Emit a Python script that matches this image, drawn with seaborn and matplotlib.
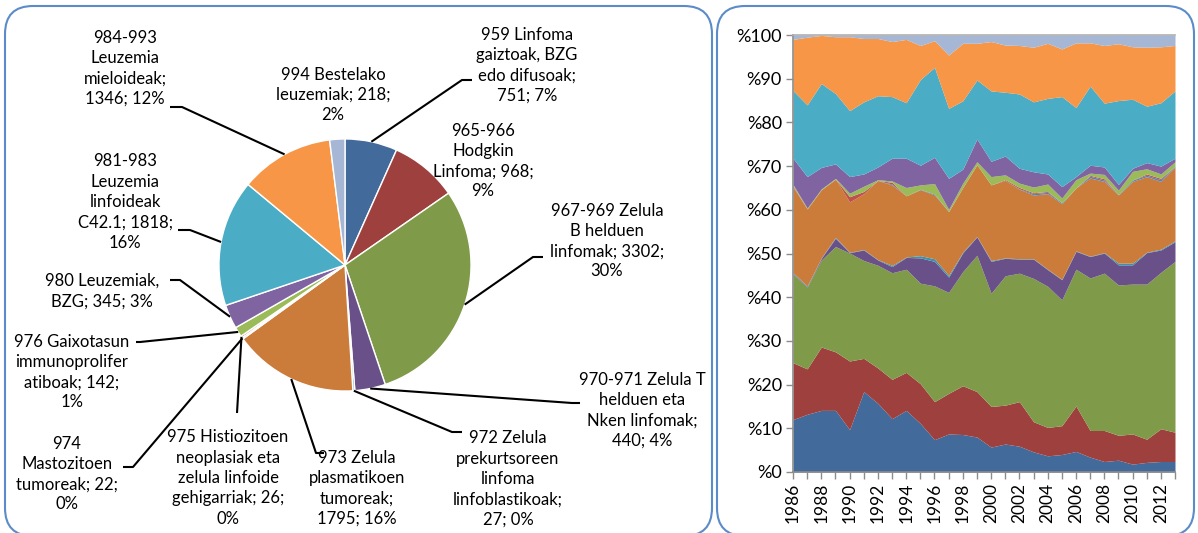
import numpy as np
import pandas as pd
import matplotlib
matplotlib.use("Agg")
import matplotlib.pyplot as plt
from matplotlib.patches import FancyBboxPatch
import seaborn as sns

# === 1. Datuak: tarta (kasu kopurua taldeka) ===
pie_values = [751, 968, 3302, 440, 27, 1795, 22, 26, 142, 345, 1818, 1346, 218]
pie_pcts = [7, 9, 30, 4, 0, 16, 0, 0, 1, 3, 16, 12, 2]
pie_labels = [
    "959 Linfoma\ngaiztoak, BZG\nedo difusoak;\n{v}; {p}%",
    "965-966\nHodgkin\nLinfoma; {v};\n{p}%",
    "967-969 Zelula\nB helduen\nlinfomak; {v};\n{p}%",
    "970-971 Zelula T\nhelduen eta\nNken linfomak;\n{v}; {p}%",
    "972 Zelula\nprekurtsoreen\nlinfoma\nlinfoblastikoak;\n{v}; {p}%",
    "973 Zelula\nplasmatikoen\ntumoreak;\n{v}; {p}%",
    "974\nMastozitoen\ntumoreak; {v};\n{p}%",
    "975 Histiozitoen\nneoplasiak eta\nzelula linfoide\ngehigarriak; {v};\n{p}%",
    "976 Gaixotasun\nimmunoprolifer\natiboak; {v};\n{p}%",
    "980 Leuzemiak,\nBZG; {v}; {p}%",
    "981-983\nLeuzemia\nlinfoideak\nC42.1; {v};\n{p}%",
    "984-993\nLeuzemia\nmieloideak;\n{v}; {p}%",
    "994 Bestelako\nleuzemiak; {v};\n{p}%",
]

# === 2. Datuak: urteko ehunekoak (%), talde bakoitzeko ===
years = list(range(1986, 2014))
s959 = [12.0, 13.2, 14.1, 14.1, 9.7, 18.4, 15.7, 12.2, 14.1, 11.1, 7.4, 8.7, 8.6, 8.0,
        5.7, 6.4, 5.9, 4.6, 3.7, 4.0, 4.7, 3.4, 2.4, 2.7, 1.8, 2.2, 2.4, 2.4]
s965 = [13.0, 10.4, 14.5, 13.4, 15.7, 7.6, 8.1, 9.0, 8.7, 9.1, 8.7, 9.3, 11.2, 10.4,
        9.3, 8.9, 10.2, 6.9, 6.5, 6.6, 10.4, 6.1, 7.1, 5.7, 6.9, 5.3, 7.5, 6.7]
s967 = [20.3, 18.7, 19.9, 24.1, 24.7, 22.4, 23.5, 24.4, 23.6, 23.0, 26.5, 23.1, 26.2, 31.2,
        25.9, 29.6, 29.4, 32.8, 32.3, 28.8, 31.3, 34.9, 36.0, 34.4, 34.3, 35.5, 35.8, 39.1]
s970 = [0.2, 0.1, 0.4, 1.9, 0.1, 2.4, 1.2, 1.4, 2.7, 5.8, 5.6, 3.5, 4.3, 4.2,
        7.3, 4.0, 3.2, 4.4, 3.8, 4.6, 4.1, 4.9, 4.6, 4.6, 4.4, 7.2, 5.1, 4.5]
s972 = [0.1, 0.2, 0.1, 0.2, 0.1, 0.1, 0.1, 0.3, 0.1, 0.5, 0.6, 0.4, 0.2, 0.1,
        0.2, 0.1, 0.1, 0.1, 0.1, 0.1, 0.1, 0.1, 0.1, 0.4, 0.4, 0.1, 0.2, 0.2]
s973 = [19.6, 17.6, 15.6, 13.3, 11.5, 12.8, 18.1, 18.4, 14.0, 15.1, 14.6, 14.6, 14.8, 16.4,
        17.3, 17.7, 15.9, 14.6, 17.3, 17.3, 14.4, 17.9, 16.3, 15.6, 18.7, 17.3, 15.5, 16.9]
s974 = [0.1, 0.0, 0.0, 0.0, 0.0, 0.0, 0.0, 0.2, 0.0, 0.1, 0.2, 0.0, 0.0, 0.0,
        0.0, 0.0, 0.1, 0.3, 0.3, 0.2, 0.0, 0.4, 0.3, 0.1, 0.3, 0.3, 0.4, 0.2]
s975 = [0.2, 0.0, 0.0, 0.0, 1.2, 0.5, 0.0, 0.4, 0.0, 0.0, 0.0, 0.0, 0.0, 0.0,
        0.0, 0.2, 0.3, 0.2, 0.2, 0.0, 0.0, 0.2, 0.3, 0.0, 0.0, 0.3, 0.3, 0.0]
s976 = [0.3, 0.2, 0.2, 0.2, 0.8, 1.2, 0.2, 0.3, 1.9, 1.0, 2.4, 0.5, 1.0, 0.7,
        1.9, 1.1, 1.0, 1.3, 1.7, 1.1, 1.9, 0.5, 1.0, 1.0, 2.0, 1.2, 1.0, 1.0]
s980 = [6.0, 7.2, 4.9, 3.3, 3.8, 2.8, 2.9, 5.2, 6.7, 4.5, 6.0, 7.1, 3.2, 5.2,
        3.5, 4.3, 3.4, 3.5, 2.3, 2.6, 0.7, 1.8, 1.7, 1.3, 0.7, 1.4, 1.8, 0.8]
s981 = [15.5, 16.4, 19.2, 16.1, 15.1, 16.5, 16.3, 14.1, 12.7, 19.6, 20.6, 16.0, 15.7, 13.5,
        16.1, 14.6, 17.0, 16.0, 17.3, 20.6, 15.8, 18.1, 14.6, 19.2, 15.8, 12.9, 14.5, 15.4]
s984 = [11.7, 15.5, 11.0, 13.0, 16.9, 14.5, 13.1, 12.6, 14.5, 7.8, 6.1, 12.2, 13.2, 8.4,
        11.3, 10.8, 11.1, 12.5, 12.6, 10.9, 14.8, 9.9, 13.2, 13.0, 12.0, 13.5, 12.8, 10.4]
s994 = [1.0, 0.5, 0.1, 0.4, 0.4, 0.8, 0.8, 1.5, 1.0, 2.4, 1.3, 4.6, 1.9, 1.9,
        1.5, 2.3, 2.4, 2.8, 1.9, 3.2, 1.8, 1.8, 2.4, 2.0, 2.7, 2.8, 2.7, 2.4]

# === 3. Koloreak (Excel estiloa) ===
colors = ["#426A9A", "#9E413E", "#7F9A48", "#695089", "#3A93AE", "#CB7B3A",
          "#4F81BD", "#C0504D", "#9BBB59", "#8064A2", "#4BACC6", "#F79646", "#A6B7D6"]

sns.set_theme(style="white")
plt.rcParams["font.family"] = ["Lato", "DejaVu Sans"]

W, H = 1198, 533
fig = plt.figure(figsize=(W / 100, H / 100), dpi=100)

# panelen ertz biribilduak (pixel koordenatuetan)
bg = fig.add_axes([0, 0, 1, 1], zorder=0)
bg.set_xlim(0, W)
bg.set_ylim(H, 0)
bg.axis("off")
for x0, x1 in [(5, 712), (717, 1194)]:
    bg.add_patch(FancyBboxPatch((x0, 6), x1 - x0, 530, boxstyle="round,pad=0,rounding_size=28",
                                fc="white", ec="#5B8BC9", lw=1.5))

# === 4. Tarta ===
ax_pie = fig.add_axes([0, 0, 712 / W, 1], zorder=1)
ax_pie.patch.set_alpha(0)
wedges, _ = ax_pie.pie(pie_values, colors=colors, startangle=-90, counterclock=True,
                       explode=[0.04] * len(pie_values), radius=126, center=(345, 265),
                       wedgeprops=dict(edgecolor="white", linewidth=1))
ax_pie.set_xlim(0, 712)
ax_pie.set_ylim(H, 0)
ax_pie.set_aspect("auto")
ax_pie.axis("off")

# etiketen kokapena: testuaren erdia, gida-lerroaren ukondoa eta amaiera
label_pos = [(527, 65), (483, 161), (607, 241), (642, 410), (508, 479), (357, 488), (67, 474),
             (228, 478), (72, 372), (102, 291), (125, 202), (125, 68), (333, 95)]
leaders = [((462, 80), (472, 80)), None, ((533, 257), (543, 257)), ((572, 403), (580, 403)),
           ((452, 432), (462, 432)), ((316, 453), (324, 453)), ((133, 467), (123, 467)),
           ((237, 413), (237, 413)), ((140, 342), (136, 342)), ((180, 280), (170, 280)),
           ((190, 230), (178, 230)), ((182, 107), (170, 107)), None]

for w, lab, v, p, pos, ld in zip(wedges, pie_labels, pie_values, pie_pcts, label_pos, leaders):
    ax_pie.text(pos[0], pos[1], lab.format(v=v, p=p), ha="center", va="center",
                fontsize=12, linespacing=1.33, color="black", zorder=5)
    if ld is not None:
        mid = np.deg2rad((w.theta1 + w.theta2) / 2)
        ax_ = w.center[0] + w.r * np.cos(mid)
        ay_ = w.center[1] + w.r * np.sin(mid)
        ax_pie.plot([ax_, ld[0][0], ld[1][0]], [ay_, ld[0][1], ld[1][1]],
                    color="black", lw=1.5, solid_capstyle="butt", zorder=4)

# === 5. Azalera metatua (%100) ===
df = pd.DataFrame({"959": s959, "965": s965, "967": s967, "970": s970, "972": s972,
                   "973": s973, "974": s974, "975": s975, "976": s976, "980": s980,
                   "981": s981, "984": s984, "994": s994}, index=years)
df = df.div(df.sum(axis=1), axis=0) * 100

ax = fig.add_axes([793 / W, 1 - 472 / H, (1175 - 793) / W, (472 - 35) / H], zorder=1)
ax.stackplot(df.index, *[df[c].values for c in df.columns], colors=colors, linewidth=0)
ax.set_xlim(1986, 2013)
ax.set_ylim(0, 100)
ax.set_yticks(range(0, 101, 10))
ax.set_yticklabels([f"%{t}" for t in range(0, 101, 10)], fontsize=13)
ax.set_xticks(years)
ax.set_xticklabels([str(y) if y % 2 == 0 else "" for y in years], rotation=90, fontsize=12.5)
sns.despine(ax=ax, top=False, right=True)
for s in ["left", "bottom", "top"]:
    ax.spines[s].set_color("#8C8C8C")
    ax.spines[s].set_linewidth(1.2)
ax.spines["top"].set_color("#B0B0B0")
ax.tick_params(axis="both", direction="out", length=5, width=1, color="#8C8C8C",
               left=True, bottom=True, pad=3, labelcolor="black")
ax.grid(False)

fig.savefig("out.png", dpi=100, facecolor="white")
